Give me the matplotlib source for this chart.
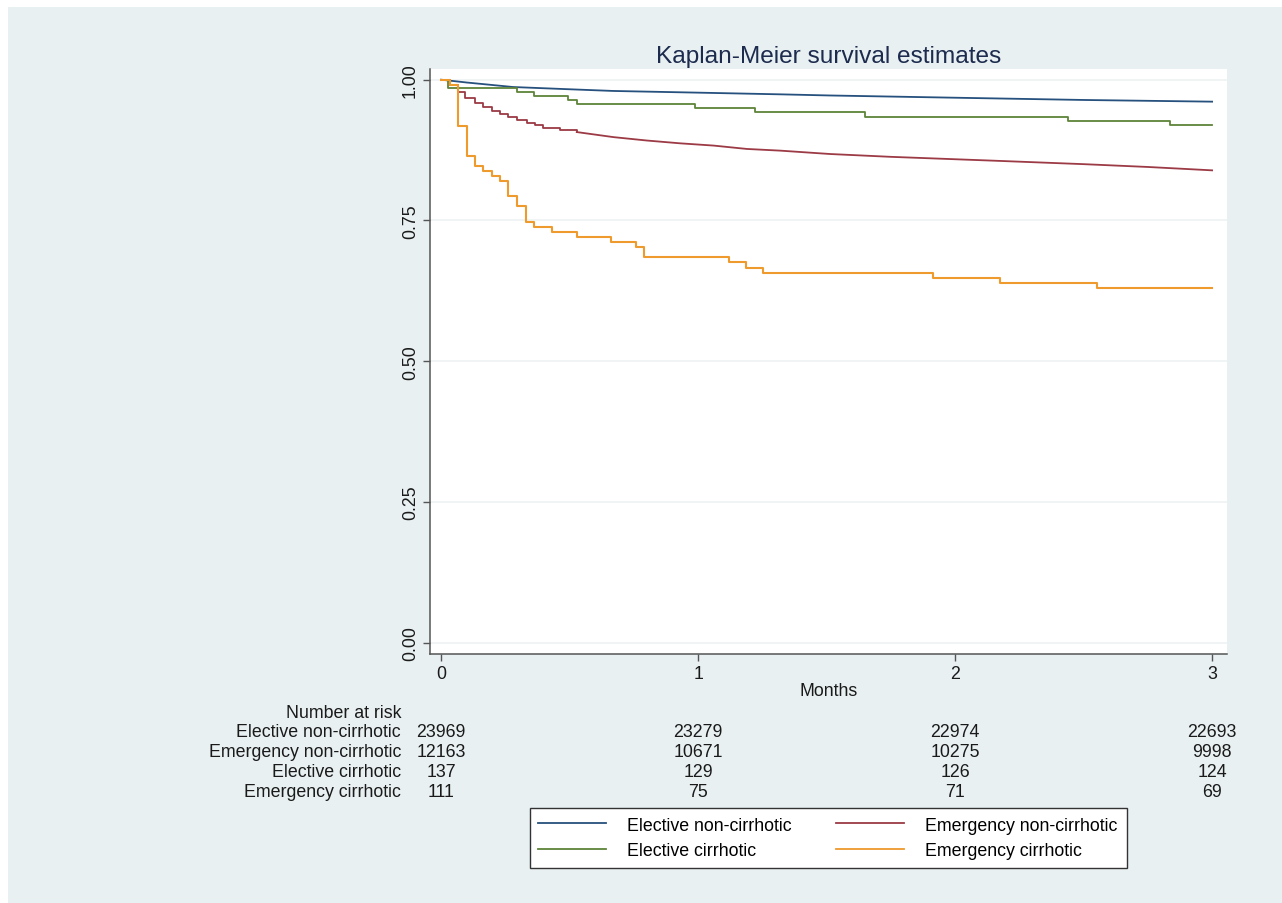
import matplotlib.pyplot as plt
from matplotlib.patches import Rectangle
from matplotlib.lines import Line2D
from matplotlib.transforms import blended_transform_factory

plt.rcParams['font.family'] = ['Liberation Sans', 'DejaVu Sans']

# --- Data (time in months, survival probability) ---
labels = ['Elective non-cirrhotic', 'Emergency non-cirrhotic',
          'Elective cirrhotic', 'Emergency cirrhotic']
colors = ['#26507d', '#9c3a45', '#5e8439', '#ee9a2c']

t_el_noncirr = [0, 0.1, 0.28, 0.5, 0.67, 1.0, 1.32, 1.51, 2.0, 2.5, 3.0]
s_el_noncirr = [1.0, 0.995, 0.987, 0.983, 0.980, 0.977, 0.974, 0.972, 0.968, 0.964, 0.961]

t_em_noncirr = [0, 0.035, 0.067, 0.093, 0.132, 0.165, 0.197, 0.230, 0.262, 0.294,
                0.333, 0.366, 0.398, 0.463, 0.528, 0.671, 0.800, 0.930, 1.060,
                1.190, 1.32, 1.514, 1.75, 2.16, 2.5, 2.75, 3.0]
s_em_noncirr = [1.0, 0.990, 0.978, 0.967, 0.958, 0.951, 0.945, 0.939, 0.933, 0.928,
                0.923, 0.920, 0.915, 0.911, 0.907, 0.898, 0.892, 0.887, 0.883,
                0.877, 0.874, 0.868, 0.863, 0.856, 0.850, 0.845, 0.839]

t_el_cirr = [0, 0.028, 0.294, 0.362, 0.495, 0.528, 0.988, 1.222, 1.65, 2.44, 2.837, 3.0]
s_el_cirr = [1.0, 0.985, 0.978, 0.971, 0.964, 0.956, 0.949, 0.942, 0.934, 0.927, 0.920, 0.920]

t_em_cirr = [0, 0.035, 0.067, 0.100, 0.132, 0.165, 0.197, 0.230, 0.262, 0.294, 0.329,
             0.362, 0.431, 0.528, 0.660, 0.759, 0.791, 1.122, 1.187, 1.252, 1.914,
             2.175, 2.553, 3.0]
s_em_cirr = [1.0, 0.991, 0.918, 0.865, 0.847, 0.838, 0.829, 0.820, 0.794, 0.776, 0.748,
             0.739, 0.730, 0.721, 0.712, 0.703, 0.685, 0.676, 0.666, 0.657, 0.648,
             0.639, 0.630, 0.630]

risk_times = [0, 1, 2, 3]
at_risk = {
    'Elective non-cirrhotic': [23969, 23279, 22974, 22693],
    'Emergency non-cirrhotic': [12163, 10671, 10275, 9998],
    'Elective cirrhotic': [137, 129, 126, 124],
    'Emergency cirrhotic': [111, 75, 71, 69],
}

W, H = 1282, 904
bg = '#e8f0f2'
txt = '#1a1a1a'
fs = 12.8

fig = plt.figure(figsize=(W / 100, H / 100), dpi=100)
fig.patch.set_facecolor('white')
fig.patches.append(Rectangle((8 / W, 0), 1 - 8 / W, 1 - 8 / H, transform=fig.transFigure,
                             facecolor=bg, edgecolor='none', zorder=-10))

ax = fig.add_axes([430 / W, 1 - 655 / H, (1227 - 430) / W, (655 - 70) / H])
ax.set_facecolor('white')

lw = 1.3
ax.plot(t_el_noncirr, s_el_noncirr, color=colors[0], lw=lw)
# early part of the emergency curve shows daily steps, later part is dense
ax.plot(t_em_noncirr[:15], s_em_noncirr[:15], color=colors[1], lw=lw, drawstyle='steps-post')
ax.plot(t_em_noncirr[14:], s_em_noncirr[14:], color=colors[1], lw=lw)
ax.plot(t_el_cirr, s_el_cirr, color=colors[2], lw=lw, drawstyle='steps-post')
ax.plot(t_em_cirr, s_em_cirr, color=colors[3], lw=lw + 0.2, drawstyle='steps-post')

ax.set_xlim(-0.043, 3.058)
ax.set_ylim(-0.020, 1.019)
ax.set_xticks([0, 1, 2, 3])
ax.set_yticks([0, 0.25, 0.5, 0.75, 1.0])
ax.set_yticklabels(['0.00', '0.25', '0.50', '0.75', '1.00'], rotation=90, va='center')
ax.grid(axis='y', color='#edf2f4', lw=1.2)
ax.set_axisbelow(True)
for side in ['top', 'right']:
    ax.spines[side].set_visible(False)
for side in ['left', 'bottom']:
    ax.spines[side].set_color('#555555')
    ax.spines[side].set_linewidth(1.1)
ax.tick_params(axis='both', colors='#555555', length=5, width=1.0, labelsize=12.8,
               labelcolor=txt)
ax.tick_params(axis='y', pad=3)
ax.tick_params(axis='x', pad=3)
ax.set_xlabel('Months', fontsize=fs, color=txt, labelpad=0)
ax.set_title('Kaplan-Meier survival estimates', fontsize=17.6, color='#1c2b4e', pad=5)

# Number at risk table
lab_x = 401 / W
row_y = [713, 733, 753, 773, 793]
fig.text(lab_x, 1 - row_y[0] / H, 'Number at risk', ha='right', va='center', fontsize=fs,
         color=txt)
tr = blended_transform_factory(ax.transData, fig.transFigure)
for i, name in enumerate(labels):
    y = 1 - row_y[i + 1] / H
    fig.text(lab_x, y, name, ha='right', va='center', fontsize=fs, color=txt)
    for t, n in zip(risk_times, at_risk[name]):
        ax.text(t, y, str(n), transform=tr, ha='center', va='center', fontsize=fs,
                color=txt, clip_on=False)

# legend is filled column by column, so reorder to get row-wise layout
order = [0, 2, 1, 3]
handles = [Line2D([], [], color=colors[i], lw=lw) for i in order]
leg = fig.legend(handles, [labels[i] for i in order], ncol=2, loc='center',
                 bbox_to_anchor=(828 / W, 1 - 839 / H),
                 fontsize=fs, frameon=True, fancybox=False, edgecolor='#333333',
                 framealpha=1, facecolor='white',
                 handlelength=3.8, handletextpad=1.2, columnspacing=2.5, labelspacing=0.5,
                 borderpad=0.5, borderaxespad=0)
leg.get_frame().set_linewidth(1.0)

fig.savefig('out.png', dpi=100, facecolor=fig.get_facecolor())
